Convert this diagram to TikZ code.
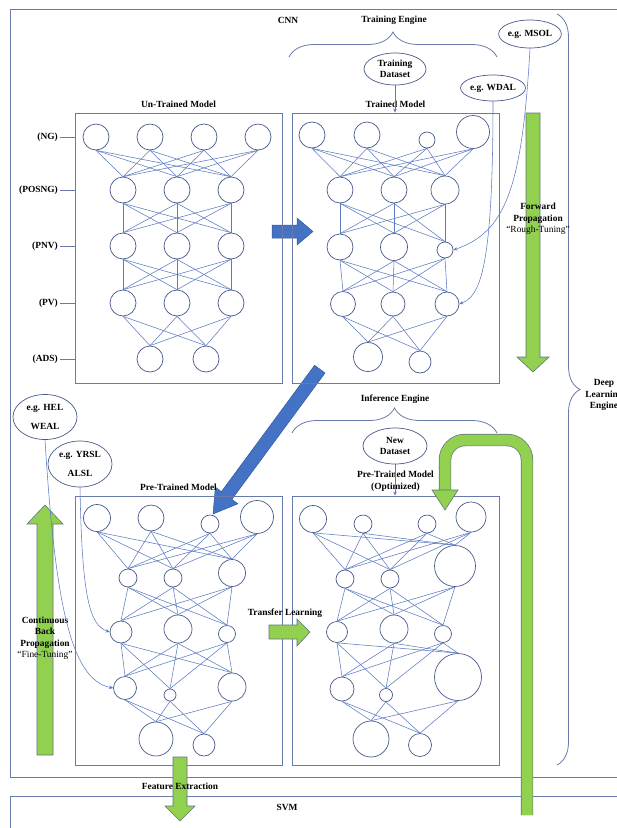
\documentclass[tikz,border=0pt]{standalone}
\usepackage{fontspec}
\setmainfont{Liberation Serif}
\usetikzlibrary{shapes.geometric, decorations.pathreplacing, arrows.meta, positioning}
\definecolor{linkc}{RGB}{92,122,194}
\definecolor{cellc}{RGB}{72,88,138}
\definecolor{framec}{RGB}{104,122,170}
\definecolor{greenc}{RGB}{146,208,80}
\definecolor{greenl}{RGB}{96,116,128}
\definecolor{bluec}{RGB}{68,114,196}
\definecolor{bluel}{RGB}{52,90,160}

\begin{document}
\begin{tikzpicture}[x=1pt, y=-1pt,
  font=\fontsize{9.4}{11.5}\selectfont\bfseries,
  neuron/.style={circle, draw=cellc, line width=0.7pt, inner sep=0pt, minimum size=#1},
  link/.style={draw=linkc, line width=0.55pt},
  tip/.style={-{Stealth[length=4pt,width=3.5pt]}},
  mbox/.style={draw=framec, line width=0.8pt, minimum width=207pt, minimum height=270pt, inner sep=0pt},
  dset/.style={ellipse, draw=cellc, line width=0.7pt, inner sep=0pt, align=center},
  curly/.style={decorate, decoration={brace, amplitude=#1}, draw=framec, line width=0.8pt},
  garrow/.style={fill=greenc, draw=greenl, line width=0.6pt},
  barrow/.style={fill=bluec, draw=bluel, line width=0.5pt}]
\useasboundingbox (0,0) rectangle (617,828);

\draw[framec, line width=0.8pt] (10,9) rectangle (640,777);
\draw[framec, line width=0.8pt] (10,796) rectangle (640,840);

\draw[barrow] (272,225) -- (297,225) -- (297,218) -- (313,231.5) -- (297,245) -- (297,238) -- (272,238) -- cycle;
\begin{scope}[shift={(213,514)}, rotate=53.6]
\draw[barrow] (0,0) -- (23,14) -- (23,6.5) -- (180,6.5) -- (180,-6.5) -- (23,-6.5) -- (23,-14) -- cycle;
\end{scope}

\node[mbox] (ut) at (178.5,248) {};
\node[mbox] (tr) at (395.5,248) {};
\node[mbox, minimum height=269pt] (pt) at (178.5,630.5) {};
\node[mbox, minimum height=269pt] (op) at (395.5,630.5) {};
\node[above=1pt of ut] (utl) {Un-Trained Model};
\node[above=1pt of tr] (trl) {Trained Model};
\node[above=1pt of pt] (ptl) {Pre-Trained Model};
\node[above=1pt of op, align=center] (opl) {Pre-Trained Model\\(Optimized)};

\node (cnn) at (288,20) {CNN};
\node (svm) at (287,807) {SVM};
\draw[curly=25] (289,57) -- (497,57);
\node (teng) at (394,20) {Training Engine};
\draw[curly=25] (292,433) -- (497,433);
\node (ieng) at (395,399) {Inference Engine};
\draw[curly=23] (557,14) -- (557,765);
\node[align=center] (dle) at (604,395) {Deep\\Learning\\Engine};

\foreach \t/\y in {NG/137, POSNG/190, PNV/246, PV/303, ADS/359} {
  \node[anchor=east, inner sep=2pt] (\t) at (60,\y) {(\t)};
  \draw[framec, line width=0.8pt] (\t) -- (\t -| ut.west);
}

% un-trained
\foreach \x [count=\i] in {96,150,204,258} \node[neuron=26pt] (u1\i) at (\x,137) {};
\foreach \x [count=\i] in {123,177,231} {
  \node[neuron=26pt] (u2\i) at (\x,190) {};
  \node[neuron=26pt] (u3\i) at (\x,246) {};
  \node[neuron=26pt] (u4\i) at (\x,303) {};
}
\foreach \x [count=\i] in {150,206} \node[neuron=26pt] (u5\i) at (\x,359) {};

% trained
\foreach \x/\y/\d [count=\i] in {312/135/26, 367/135/26, 427/140/16, 473/132/33}
  \node[neuron=\d pt] (t1\i) at (\x,\y) {};
\foreach \x/\y/\d [count=\i] in {340/190/26, 394/190/26, 445/190/28}
  \node[neuron=\d pt] (t2\i) at (\x,\y) {};
\foreach \x/\y/\d [count=\i] in {340/247/26, 394/247/27, 445/250/16}
  \node[neuron=\d pt] (t3\i) at (\x,\y) {};
\foreach \x/\y/\d [count=\i] in {343/304/25, 393/304/24, 447/304/24}
  \node[neuron=\d pt] (t4\i) at (\x,\y) {};
\foreach \x/\y/\d [count=\i] in {368/357/29, 420/362/22}
  \node[neuron=\d pt] (t5\i) at (\x,\y) {};

% pre-trained
\foreach \x/\y/\d [count=\i] in {97/518/27, 151/518/26, 210/524/18, 257/517/33}
  \node[neuron=\d pt] (p1\i) at (\x,\y) {};
\foreach \x/\y/\d [count=\i] in {128/578/18, 173/578/18, 232/573/27}
  \node[neuron=\d pt] (p2\i) at (\x,\y) {};
\foreach \x/\y/\d [count=\i] in {121/632/22, 178/629/28, 227/634/17}
  \node[neuron=\d pt] (p3\i) at (\x,\y) {};
\foreach \x/\y/\d [count=\i] in {125/688/23, 170/695/12, 232/687/28}
  \node[neuron=\d pt] (p4\i) at (\x,\y) {};
\foreach \x/\y/\d [count=\i] in {156/739/34, 204/745/22}
  \node[neuron=\d pt] (p5\i) at (\x,\y) {};

% optimized
\foreach \x/\y/\d [count=\i] in {313/519/27, 363/524/18, 427/524/18, 471/517/30}
  \node[neuron=\d pt] (o1\i) at (\x,\y) {};
\foreach \x/\y/\d [count=\i] in {345/579/18, 390/579/18, 455/566/41}
  \node[neuron=\d pt] (o2\i) at (\x,\y) {};
\foreach \x/\y/\d [count=\i] in {337/632/21, 394/629/28, 443/634/17}
  \node[neuron=\d pt] (o3\i) at (\x,\y) {};
\foreach \x/\y/\d [count=\i] in {342/689/24, 386/695/13, 458/677/47}
  \node[neuron=\d pt] (o4\i) at (\x,\y) {};
\foreach \x/\y/\d [count=\i] in {371/739/36, 420/745/23}
  \node[neuron=\d pt] (o5\i) at (\x,\y) {};

\foreach \n in {u,t,p,o} {
  \foreach \i in {1,...,4} \foreach \j in {1,2,3} \draw[link] (\n1\i.south) -- (\n2\j.north);
  \foreach \i in {1,2,3} \foreach \j in {1,2,3} {
    \draw[link] (\n2\i.south) -- (\n3\j.north);
    \draw[link] (\n3\i.south) -- (\n4\j.north);
  }
  \foreach \i in {1,2,3} \foreach \j in {1,2} \draw[link] (\n4\i.south) -- (\n5\j.north);
}

% green arrows
\draw[garrow] (526,113) -- (540,113) -- (540,357) -- (549,357) -- (533,372) -- (517,357) -- (526,357) -- cycle;
\draw[garrow] (37,755) -- (37,524) -- (27,524) -- (45,505) -- (63,524) -- (53,524) -- (53,755) -- cycle;
\draw[garrow] (269,625) -- (297,625) -- (297,619) -- (310,632) -- (297,646) -- (297,639) -- (269,639) -- cycle;
\draw[garrow] (173,757) -- (187,757) -- (187,806) -- (195,806) -- (180,821) -- (165,806) -- (173,806) -- cycle;
\draw[greenl, line width=12.4pt, rounded corners=20pt] (527,815) -- (527,440) -- (445,440) -- (445,492);
\draw[greenc, line width=11pt, rounded corners=20pt] (527,815) -- (527,440) -- (445,440) -- (445,492);
\draw[garrow] (432,490) -- (458,490) -- (445,510) -- cycle;

\node[align=center] (fwd) at (538,219) {Forward\\Propagation\\{\mdseries “Rough-Tuning”}};
\node[align=center] (bwd) at (45,638) {Continuous\\Back\\Propagation\\{\mdseries “Fine-Tuning”}};
\node (tl) at (285,613) {Transfer Learning};
\node (fe) at (180,786) {Feature Extraction};

% datasets and layer hints
\node[dset, minimum width=62pt, minimum height=32pt] (td) at (395,69) {Training\\Dataset};
\node[dset, minimum width=64pt, minimum height=36pt] (nd) at (395,446) {New\\Dataset};
\node[dset, minimum width=62pt, minimum height=28pt] (msol) at (530,34) {e.g. MSOL};
\node[dset, minimum width=62pt, minimum height=26pt] (wdal) at (493,88) {e.g. WDAL};
\node[dset, minimum width=64pt, minimum height=45pt] (hel) at (45,417) {e.g. HEL\\[7pt]WEAL};
\node[dset, minimum width=64pt, minimum height=46pt] (yrsl) at (80,464) {e.g. YRSL\\[7pt]ALSL};

\draw[link, tip] (td) -- (td |- tr.north);
\draw[link, tip] (nd) -- (nd |- op.north);
\draw[link, tip] (msol.south) .. controls (522,190) and (505,232) .. (t33.east);
\draw[link, tip] (wdal.south) .. controls (493,270) and (480,296) .. (t43.east);
\draw[link, tip] (hel.south) .. controls (55,600) and (70,680) .. (p41.west);
\draw[link, tip] (yrsl.south) .. controls (82,600) and (90,625) .. (p31.west);

\end{tikzpicture}
\end{document}
